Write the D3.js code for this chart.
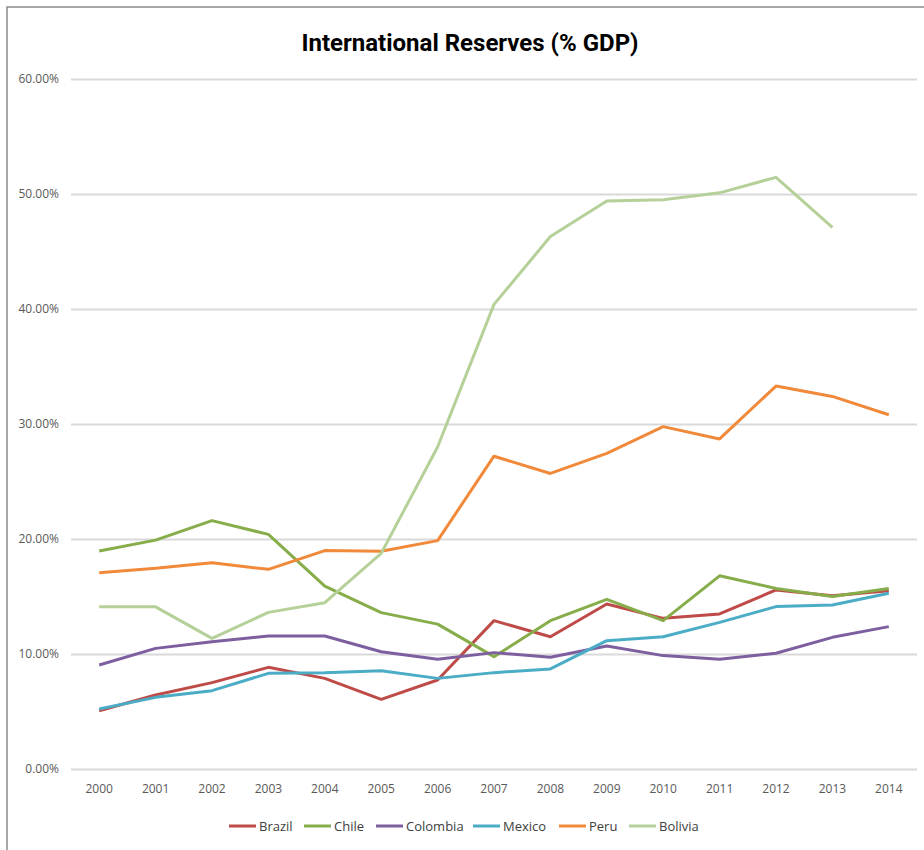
<!DOCTYPE html>
<html>
<head>
<meta charset="utf-8">
<script src="https://d3js.org/d3.v7.min.js"></script>
<style>
  body { margin: 0; background: #fff; }
  .grid line { stroke: #d9d9d9; stroke-width: 2; }
  .grid .domain { stroke: none; }
  .axis text { fill: #595959; font-family: "Open Sans", "DejaVu Sans", sans-serif; font-size: 12px; }
</style>
</head>
<body>
<svg id="chart" width="924" height="850"></svg>
<script>
// data
const years = ["2000","2001","2002","2003","2004","2005","2006","2007","2008","2009","2010","2011","2012","2013","2014"];
const yTicks = [0, 10, 20, 30, 40, 50, 60];

const brazil   = [5.07, 6.43, 7.51, 8.84, 7.88, 6.06, 7.74, 12.9, 11.5, 14.35, 13.1, 13.48, 15.57, 15.07, 15.5];
const chile    = [18.96, 19.9, 21.6, 20.4, 15.9, 13.6, 12.6, 9.77, 12.9, 14.75, 12.9, 16.8, 15.7, 15.0, 15.7];
const colombia = [9.04, 10.49, 11.07, 11.57, 11.57, 10.2, 9.54, 10.12, 9.71, 10.7, 9.86, 9.54, 10.06, 11.45, 12.38];
const mexico   = [5.22, 6.23, 6.81, 8.32, 8.38, 8.55, 7.88, 8.38, 8.7, 11.16, 11.5, 12.75, 14.12, 14.26, 15.28];
const peru     = [17.07, 17.45, 17.94, 17.36, 18.99, 18.93, 19.86, 27.2, 25.7, 27.45, 29.77, 28.7, 33.3, 32.4, 30.8];
const bolivia  = [14.1, 14.1, 11.36, 13.62, 14.46, 18.75, 28.0, 40.4, 46.3, 49.4, 49.5, 50.1, 51.45, 47.1, null];

const seriesNames  = ["Brazil", "Chile", "Colombia", "Mexico", "Peru", "Bolivia"];
const seriesValues = [brazil, chile, colombia, mexico, peru, bolivia];
const seriesColors = ["#be4b48", "#86ad4a", "#7d5fa0", "#4aacc5", "#f08a3a", "#b5d098"];

const svg = d3.select("#chart");
const margin = {top: 79, right: 7, bottom: 81, left: 71};
const width = 924, height = 850;
const chartWidth = width - margin.left - margin.right;
const chartHeight = height - margin.top - margin.bottom;

// outer frame (cut off at the right and bottom)
svg.append("rect")
   .attr("x", 7).attr("y", 7)
   .attr("width", 940).attr("height", 900)
   .attr("fill", "none")
   .attr("stroke", "#8c8c8c")
   .attr("stroke-width", 1.5);

svg.append("text")
   .attr("x", 470).attr("y", 51)
   .attr("text-anchor", "middle")
   .attr("font-family", "'Liberation Sans Narrow', 'Roboto', sans-serif")
   .attr("font-weight", "bold")
   .attr("font-size", 24)
   .attr("fill", "#000")
   .text("International Reserves (% GDP)");

const xScale = d3.scaleBand().domain(years).range([0, chartWidth]);
const yScale = d3.scaleLinear().domain([0, 60]).range([chartHeight, 0]);

let chartArea = svg.append("g")
                   .attr("transform", `translate(${margin.left}, ${margin.top})`);

let leftGridLines = d3.axisLeft(yScale)
                      .tickValues(yTicks)
                      .tickSize(-chartWidth)
                      .tickFormat("");
chartArea.append("g").attr("class", "grid").call(leftGridLines);

let leftAxis = d3.axisLeft(yScale)
                 .tickValues(yTicks)
                 .tickSize(0)
                 .tickPadding(12)
                 .tickFormat(d => d.toFixed(2) + "%");
chartArea.append("g")
         .attr("class", "axis")
         .call(leftAxis)
         .call(g => g.select(".domain").remove());

let bottomAxis = d3.axisBottom(xScale).tickSize(0).tickPadding(15);
chartArea.append("g")
         .attr("class", "axis")
         .attr("transform", `translate(0, ${chartHeight})`)
         .call(bottomAxis)
         .call(g => g.select(".domain").remove());

const line = d3.line()
               .defined(d => d != null)
               .x((d, i) => xScale(years[i]) + xScale.bandwidth() / 2)
               .y(d => yScale(d));

seriesValues.forEach((vals, k) => {
  chartArea.append("path")
           .attr("d", line(vals))
           .attr("fill", "none")
           .attr("stroke", seriesColors[k])
           .attr("stroke-width", 3)
           .attr("stroke-linejoin", "round");
});

// legend
const legendX = [229, 304, 376, 473, 559, 629];
const legendY = 826;
seriesNames.forEach((name, k) => {
  let g = svg.append("g").attr("transform", `translate(${legendX[k]}, ${legendY})`);
  g.append("line")
   .attr("x1", 0).attr("x2", 27)
   .attr("y1", 0).attr("y2", 0)
   .attr("stroke", seriesColors[k])
   .attr("stroke-width", 3);
  g.append("text")
   .attr("x", 30).attr("y", 0)
   .attr("dy", "0.35em")
   .attr("font-family", "'Liberation Sans Narrow', 'Open Sans', sans-serif")
   .attr("font-size", 13)
   .attr("fill", "#404040")
   .text(name);
});
</script>
</body>
</html>
